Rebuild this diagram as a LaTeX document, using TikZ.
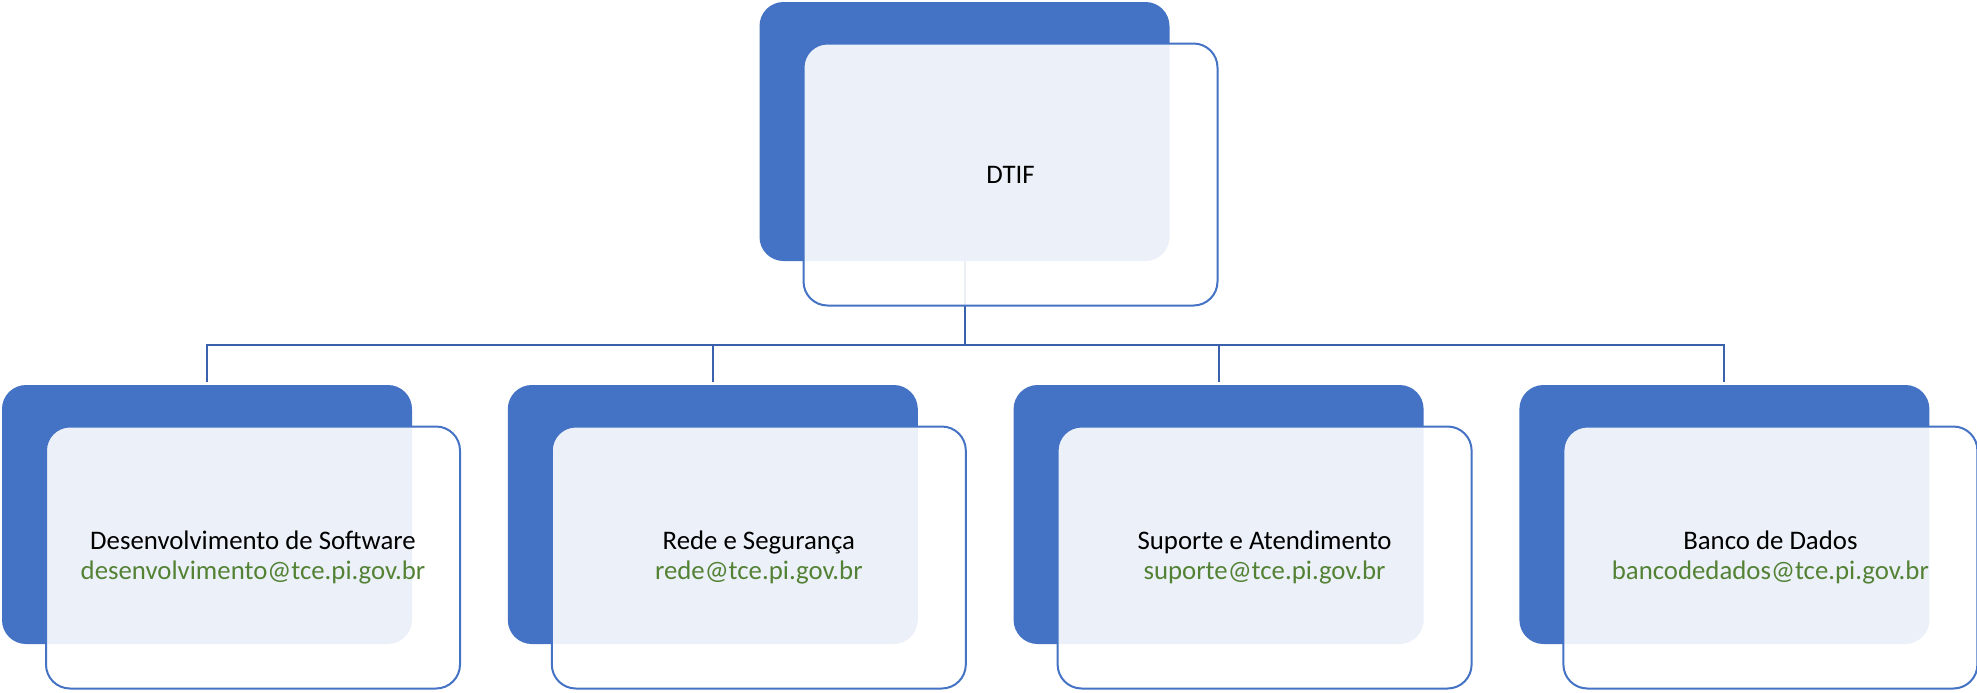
\documentclass[tikz,border=0pt]{standalone}
\usepackage{fontspec}
\setmainfont{Carlito}
\usetikzlibrary{positioning}
\definecolor{unitblue}{HTML}{4472C4}
\definecolor{linkblue}{HTML}{3A62AC}
\definecolor{mailgreen}{HTML}{548235}

\begin{document}
\begin{tikzpicture}[x=0.5pt,y=-0.5pt,node distance=47.5pt,
  back/.style={fill=unitblue, rounded corners=12pt, minimum width=205pt,
    minimum height=129.5pt, inner sep=0pt},
  front/.style={draw=unitblue, line width=1pt, fill=white, fill opacity=0.9,
    text opacity=1, rounded corners=12pt, minimum width=207pt,
    minimum height=131pt, inner sep=0pt, align=center, xshift=23pt, yshift=-21.5pt,
    font=\fontsize{13.4pt}{15pt}\selectfont},
  link/.style={draw=linkblue, line width=1pt}]

  \useasboundingbox (0,0) rectangle (1977,692);

  % dark back boxes
  \node[back]              (dtop) at (964.5,131.5) {};
  \node[back]              (d1)   at (207,514.5)   {};
  \node[back, right=of d1] (d2)   {};
  \node[back, right=of d2] (d3)   {};
  \node[back, right=of d3] (d4)   {};

  % connectors
  \coordinate (bus) at (964.5,345);
  \draw[link] (dtop.south) -- (bus);
  \foreach \i in {1,...,4}
    \draw[link] (bus) -| ([yshift=1.5pt]d\i.north);

  % front boxes with text
  \node[front] (otop) at (dtop.center) {DTIF};
  \node[front] (o1) at (d1.center) {Desenvolvimento de Software\\
    \textcolor{mailgreen}{desenvolvimento@tce.pi.gov.br}};
  \node[front] (o2) at (d2.center) {Rede e Segurança\\
    \textcolor{mailgreen}{rede@tce.pi.gov.br}};
  \node[front] (o3) at (d3.center) {Suporte e Atendimento\\
    \textcolor{mailgreen}{suporte@tce.pi.gov.br}};
  \node[front] (o4) at (d4.center) {Banco de Dados\\
    \textcolor{mailgreen}{bancodedados@tce.pi.gov.br}};
\end{tikzpicture}
\end{document}
